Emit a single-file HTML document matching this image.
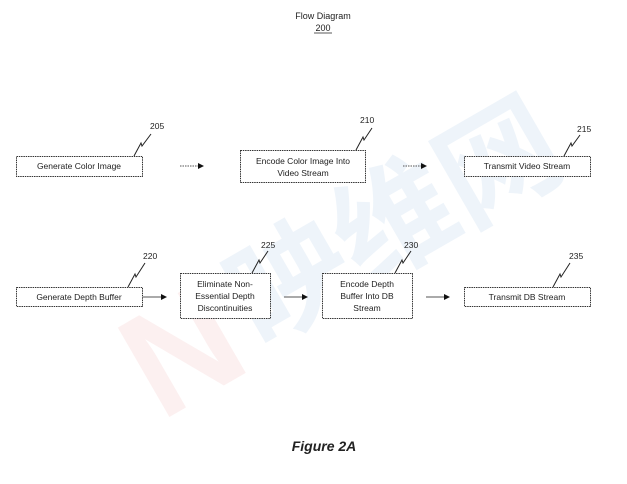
<!DOCTYPE html>
<html><head><style>
html,body{margin:0;padding:0;background:#fff;}
svg{display:block;}
text{font-family:"Liberation Sans",sans-serif;fill:#222;}
</style></head><body>
<svg width="627" height="484" viewBox="0 0 627 484" xmlns="http://www.w3.org/2000/svg">
<defs>
<marker id="a" markerWidth="6" markerHeight="6" refX="5" refY="3" orient="auto" markerUnits="userSpaceOnUse">
<path d="M0,0 L6,3 L0,6 z" fill="#111"/></marker>
</defs>
<g opacity="0.08" fill="#3a7fc4">
<text x="120" y="390" font-size="150" font-weight="bold" style="fill:#e05050" transform="rotate(-30 200 330)">N</text>
<text x="220" y="300" font-size="120" font-weight="bold" style="fill:#3a7fc4;font-family:'Noto Sans CJK SC',sans-serif" transform="rotate(-30 330 250)">映维网</text>
</g>
<text x="323" y="19" font-size="9" text-anchor="middle">Flow Diagram</text>
<text x="323" y="31" font-size="9" text-anchor="middle">200</text>
<line x1="314" y1="33" x2="332" y2="33" stroke="#222" stroke-width="0.8"/>

<g fill="#fff" stroke="#333" stroke-width="1" stroke-dasharray="1.5,0.8">
<rect x="16.5" y="156.5" width="126" height="20"/>
<rect x="240.5" y="150.5" width="125" height="32"/>
<rect x="464.5" y="156.5" width="126" height="20"/>
<rect x="16.5" y="287.5" width="126" height="19"/>
<rect x="180.5" y="273.5" width="90" height="45"/>
<rect x="322.5" y="273.5" width="90" height="45"/>
<rect x="464.5" y="287.5" width="126" height="19"/>
</g>
<g font-size="8.5" text-anchor="middle">
<text x="79" y="169">Generate Color Image</text>
<text x="303" y="164">Encode Color Image Into</text>
<text x="303" y="176">Video Stream</text>
<text x="527" y="169">Transmit Video Stream</text>
<text x="79" y="300">Generate Depth Buffer</text>
<text x="225" y="287">Eliminate Non-</text>
<text x="225" y="299">Essential Depth</text>
<text x="225" y="311">Discontinuities</text>
<text x="367" y="287">Encode Depth</text>
<text x="367" y="299">Buffer Into DB</text>
<text x="367" y="311">Stream</text>
<text x="527" y="300">Transmit DB Stream</text>
</g>
<g stroke="#555" stroke-width="1" marker-end="url(#a)">
<line x1="180" y1="166" x2="203" y2="166" stroke-dasharray="1.5,1"/>
<line x1="403" y1="166" x2="426" y2="166" stroke-dasharray="1.5,1"/>
<line x1="143" y1="297" x2="166" y2="297"/>
<line x1="284" y1="297" x2="307" y2="297"/>
<line x1="426" y1="297" x2="449" y2="297"/>
</g>
<g fill="none" stroke="#222" stroke-width="1">
<polyline points="134,156 141,143 142,146 151,134"/>
<polyline points="356,150 363,137 364,140 372,128"/>
<polyline points="564,156 571,143 572,146 580,135"/>
<polyline points="128,287 135,274 136,277 145,263"/>
<polyline points="252,273 259,260 260,263 268,251"/>
<polyline points="395,273 402,260 403,263 411,251"/>
<polyline points="553,287 560,274 561,277 570,263"/>
</g>
<g font-size="8.5">
<text x="150" y="129">205</text>
<text x="360" y="123">210</text>
<text x="577" y="132">215</text>
<text x="143" y="259">220</text>
<text x="261" y="248">225</text>
<text x="404" y="248">230</text>
<text x="569" y="259">235</text>
</g>
<text x="324" y="451" font-size="14" font-weight="bold" font-style="italic" text-anchor="middle">Figure 2A</text>
</svg>
</body></html>
